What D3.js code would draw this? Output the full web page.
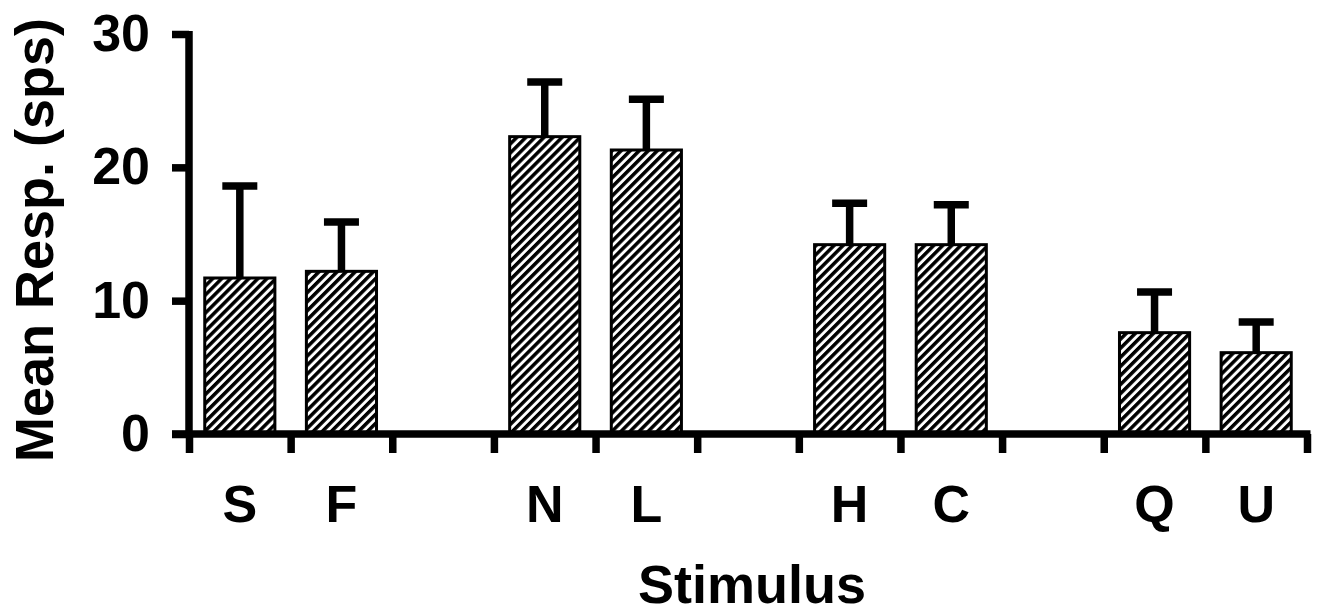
<!DOCTYPE html>
<html>
<head>
<meta charset="utf-8">
<script src="https://cdn.jsdelivr.net/npm/d3@7"></script>
<style>
  html, body { margin: 0; padding: 0; background: #fff; }
  svg { display: block; }
  text { font-family: "Liberation Sans", Arial, Helvetica, sans-serif; font-weight: bold; fill: #000; }
</style>
</head>
<body>
<script>
// ---- data ----
const slots = ["S", "F", "", "N", "L", " ", "H", "C", "  ", "Q", "U"];
const categories = ["S", "F", "N", "L", "H", "C", "Q", "U"];
const means = [11.7, 12.2, 22.3, 21.3, 14.2, 14.2, 7.6, 6.1];
const errors = [6.9, 3.7, 4.1, 3.8, 3.1, 3.0, 3.05, 2.3];
const yTicks = [0, 10, 20, 30];
const yLabel = "Mean Resp. (sps)";
const xLabel = "Stimulus";

(function () {
const W = 1331, H = 615;
const mLeft = 189, mRight = 1307, mTop = 34, mBottom = 434;
const AX = 7.5;

const svg = d3.select("body").append("svg").attr("width", W).attr("height", H);

const defs = svg.append("defs");
const pat = defs.append("pattern")
  .attr("id", "hatch").attr("patternUnits", "userSpaceOnUse")
  .attr("width", 6.4).attr("height", 10)
  .attr("patternTransform", "rotate(45)");
pat.append("rect").attr("width", 6.4).attr("height", 10).attr("fill", "#fff");
pat.append("rect").attr("width", 3.5).attr("height", 10).attr("fill", "#000");

const y = d3.scaleLinear().domain([0, 30]).range([mBottom, mTop]);
const x = d3.scaleBand().domain(slots).range([mLeft, mRight]).paddingInner(0.31).paddingOuter(0.155);
const xt = d3.scaleLinear().domain([0, slots.length]).range([mLeft, mRight]);

const data = categories.map((c, i) => ({ c, m: means[i], e: errors[i] }));
const g = svg.append("g");

// error bars
g.selectAll("line.stem").data(data).enter().append("line")
  .attr("x1", d => x(d.c) + x.bandwidth() / 2).attr("x2", d => x(d.c) + x.bandwidth() / 2)
  .attr("y1", d => y(d.m)).attr("y2", d => y(d.m + d.e))
  .attr("stroke", "#000").attr("stroke-width", 7.5);
g.selectAll("line.cap").data(data).enter().append("line")
  .attr("x1", d => x(d.c) + x.bandwidth() / 2 - 17.5).attr("x2", d => x(d.c) + x.bandwidth() / 2 + 17.5)
  .attr("y1", d => y(d.m + d.e)).attr("y2", d => y(d.m + d.e))
  .attr("stroke", "#000").attr("stroke-width", 7.5);

// bars
g.selectAll("rect.bar").data(data).enter().append("rect")
  .attr("x", d => x(d.c)).attr("width", x.bandwidth())
  .attr("y", d => y(d.m)).attr("height", d => y(0) - y(d.m))
  .attr("fill", "url(#hatch)").attr("stroke", "#000").attr("stroke-width", 3);

// y axis
const yAxis = svg.append("g").attr("transform", `translate(${mLeft},0)`)
  .call(d3.axisLeft(y).tickValues(yTicks).tickSize(17).tickSizeOuter(0).tickPadding(22));
yAxis.select(".domain").remove();
yAxis.append("line").attr("x1", 0).attr("x2", 0).attr("y1", mTop - 3).attr("y2", mBottom)
  .attr("stroke", "#000").attr("stroke-width", AX);
yAxis.selectAll(".tick line").attr("stroke", "#000").attr("stroke-width", AX);
yAxis.selectAll(".tick text").attr("font-size", 52).attr("fill", "#000")
  .style("font-family", '"Liberation Sans", Arial, sans-serif').style("font-weight", "bold");

// x axis
const xAxis = svg.append("g").attr("transform", `translate(0,${mBottom})`)
  .call(d3.axisBottom(xt).tickValues(d3.range(0, slots.length + 1)).tickSize(19).tickSizeOuter(0).tickFormat(""));
xAxis.select(".domain").remove();
xAxis.append("line").attr("x1", mLeft - 17).attr("x2", mRight + 3.5).attr("y1", 0).attr("y2", 0)
  .attr("stroke", "#000").attr("stroke-width", AX);
xAxis.selectAll(".tick line").attr("stroke", "#000").attr("stroke-width", AX);

// category labels
svg.append("g").selectAll("text").data(categories).enter().append("text")
  .attr("x", d => x(d) + x.bandwidth() / 2).attr("y", 522)
  .attr("text-anchor", "middle").attr("font-size", 52).text(d => d);

// axis titles
svg.append("text").attr("x", (mLeft + mRight) / 2 + 4).attr("y", 603)
  .attr("text-anchor", "middle").attr("font-size", 54).text(xLabel);
svg.append("text").attr("transform", `translate(53,${(mTop + mBottom) / 2 + 6}) rotate(-90)`)
  .attr("text-anchor", "middle").attr("font-size", 54).text(yLabel);
})();
</script>
</body>
</html>
